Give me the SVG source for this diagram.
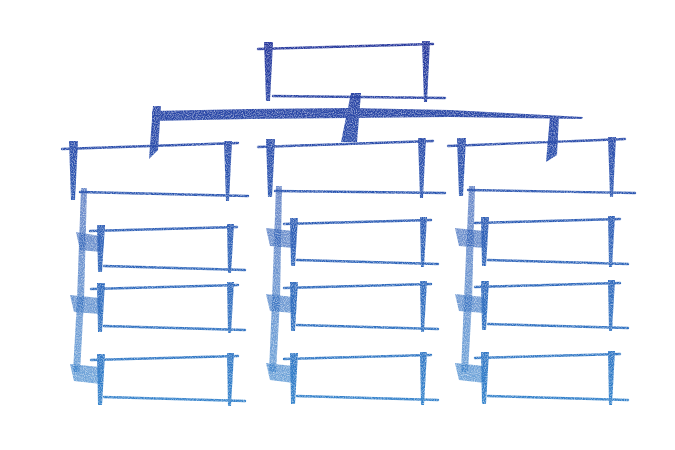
<svg xmlns="http://www.w3.org/2000/svg" width="675" height="450" viewBox="0 0 675 450">
<defs>
<linearGradient id="ink" gradientUnits="userSpaceOnUse" x1="0" y1="40" x2="0" y2="410">
<stop offset="0" stop-color="#27389c"/>
<stop offset="0.4" stop-color="#2b55b0"/>
<stop offset="1" stop-color="#3383cc"/>
</linearGradient>
<filter id="grain" x="-5%" y="-5%" width="110%" height="110%">
<feTurbulence type="fractalNoise" baseFrequency="0.9" numOctaves="2" seed="3" result="n"/>
<feColorMatrix in="n" type="matrix" values="0 0 0 0 0  0 0 0 0 0  0 0 0 0 0  0 0 0 -1.2 1.45" result="a"/>
<feComposite in="SourceGraphic" in2="a" operator="in"/>
</filter>
</defs>
<style>
.ln{fill:none;stroke:url(#ink);stroke-width:2.4;stroke-linecap:round}
.vt{fill:url(#ink);stroke:none}
.sp{fill:url(#ink);stroke:none;opacity:0.7}
</style>
<rect width="675" height="450" fill="#ffffff"/>
<g id="connectors" filter="url(#grain)">
<polygon class="vt" points="152,111 250,109 350,108 450,110 583,117 582,119 450,117 350,118 250,119 152,121"/>
<polygon class="vt" points="351,93 361,93 357,142 341,142"/>
<polygon class="vt" points="153,106 161,106 158,150 149,159"/>
<polygon class="vt" points="550,116 559,116 557,155 546,162"/>
<polygon class="sp" points="81,188 87,188 84,300 80,372 73,372 77,300"/>
<polygon class="sp" points="76,232 100,236 101,252 80,250"/>
<polygon class="sp" points="70,295 100,298 101,314 74,312"/>
<polygon class="sp" points="70,364 100,367 101,384 74,381"/>
<polygon class="sp" points="276,186 282,186 280,300 276,372 269,372 272,300"/>
<polygon class="sp" points="266,228 293,231 294,248 270,246"/>
<polygon class="sp" points="266,294 293,297 294,313 270,311"/>
<polygon class="sp" points="266,363 293,366 294,383 270,380"/>
<polygon class="sp" points="469,186 475,186 472,300 468,372 461,372 464,300"/>
<polygon class="sp" points="455,228 484,231 485,248 459,246"/>
<polygon class="sp" points="455,294 484,297 485,313 459,311"/>
<polygon class="sp" points="455,363 484,366 485,383 459,380"/>
</g>
<g id="top" filter="url(#grain)">
<path class="ln" d="M258,49 L433,44"/>
<path class="ln" d="M273,96 L445,98"/>
<polygon class="vt" points="264,42 273,42 270,101 266,101"/>
<polygon class="vt" points="422,41 430,41 427,102 424,102"/>
</g>
<g id="n2a" filter="url(#grain)">
<path class="ln" d="M62,149 L238,143"/>
<path class="ln" d="M80,192 L248,196"/>
<polygon class="vt" points="69,141 78,141 75,200 71,200"/>
<polygon class="vt" points="224,141 232,141 229,201 226,201"/>
</g>
<g id="n2b" filter="url(#grain)">
<path class="ln" d="M258,147 L433,141"/>
<path class="ln" d="M275,191 L445,193"/>
<polygon class="vt" points="266,139 275,139 272,197 268,197"/>
<polygon class="vt" points="418,138 426,138 423,198 420,198"/>
</g>
<g id="n2c" filter="url(#grain)">
<path class="ln" d="M448,146 L625,139"/>
<path class="ln" d="M468,190 L635,193"/>
<polygon class="vt" points="457,138 466,138 463,196 459,196"/>
<polygon class="vt" points="608,137 616,137 613,197 610,197"/>
</g>
<g id="n3a1" filter="url(#grain)">
<path class="ln" d="M90,231 L237,227"/>
<path class="ln" d="M104,266 L245,270"/>
<polygon class="vt" points="97,225 105,225 102,272 98,272"/>
<polygon class="vt" points="227,224 234,224 231,273 228,273"/>
</g>
<g id="n3a2" filter="url(#grain)">
<path class="ln" d="M91,289 L238,285"/>
<path class="ln" d="M104,326 L245,330"/>
<polygon class="vt" points="97,283 105,283 102,332 98,332"/>
<polygon class="vt" points="227,282 234,282 231,333 228,333"/>
</g>
<g id="n3a3" filter="url(#grain)">
<path class="ln" d="M91,360 L238,356"/>
<path class="ln" d="M104,397 L245,401"/>
<polygon class="vt" points="97,354 105,354 102,405 98,405"/>
<polygon class="vt" points="227,353 234,353 231,406 228,406"/>
</g>
<g id="n3b1" filter="url(#grain)">
<path class="ln" d="M284,224 L431,220"/>
<path class="ln" d="M297,260 L438,264"/>
<polygon class="vt" points="290,218 298,218 295,266 291,266"/>
<polygon class="vt" points="420,217 427,217 424,267 421,267"/>
</g>
<g id="n3b2" filter="url(#grain)">
<path class="ln" d="M284,288 L431,284"/>
<path class="ln" d="M297,325 L438,329"/>
<polygon class="vt" points="290,282 298,282 295,331 291,331"/>
<polygon class="vt" points="420,281 427,281 424,332 421,332"/>
</g>
<g id="n3b3" filter="url(#grain)">
<path class="ln" d="M284,359 L431,355"/>
<path class="ln" d="M297,396 L438,400"/>
<polygon class="vt" points="290,353 298,353 295,404 291,404"/>
<polygon class="vt" points="420,352 427,352 424,405 421,405"/>
</g>
<g id="n3c1" filter="url(#grain)">
<path class="ln" d="M475,223 L620,219"/>
<path class="ln" d="M488,260 L628,264"/>
<polygon class="vt" points="481,217 489,217 486,266 482,266"/>
<polygon class="vt" points="608,216 615,216 612,267 609,267"/>
</g>
<g id="n3c2" filter="url(#grain)">
<path class="ln" d="M475,287 L620,283"/>
<path class="ln" d="M488,324 L628,328"/>
<polygon class="vt" points="481,281 489,281 486,330 482,330"/>
<polygon class="vt" points="608,280 615,280 612,331 609,331"/>
</g>
<g id="n3c3" filter="url(#grain)">
<path class="ln" d="M475,358 L620,354"/>
<path class="ln" d="M488,396 L628,400"/>
<polygon class="vt" points="481,352 489,352 486,404 482,404"/>
<polygon class="vt" points="608,351 615,351 612,405 609,405"/>
</g>
</svg>
